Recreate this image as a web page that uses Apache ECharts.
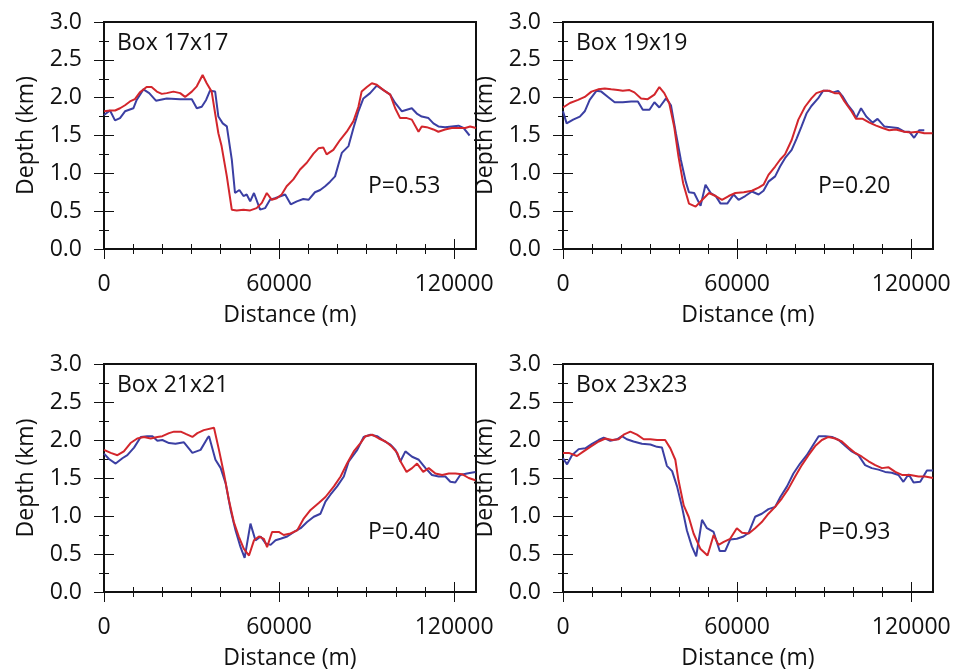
<!DOCTYPE html>
<html>
<head>
<meta charset="utf-8">
<script src="https://cdn.jsdelivr.net/npm/echarts@6/dist/echarts.min.js"></script>
<style>
  html, body { margin: 0; padding: 0; background: #fff; }
  #chart { width: 959px; height: 672px; }
</style>
</head>
<body>
<div id="chart"></div>
<script>
// tick positions and labels
const xMinorTicks = [0, 10000, 20000, 30000, 40000, 50000, 60000, 70000, 80000, 90000, 100000, 110000, 120000];
const xMajorTicks = [0, 60000, 120000];
const yMinorTicks = [0, 0.25, 0.5, 0.75, 1, 1.25, 1.5, 1.75, 2, 2.25, 2.5, 2.75, 3];
const yMajorTicks = [0, 0.5, 1, 1.5, 2, 2.5, 3];

const boxTitles = ['Box 17x17', 'Box 19x19', 'Box 21x21', 'Box 23x23'];
const pLabels = ['P=0.53', 'P=0.20', 'P=0.40', 'P=0.93'];

// [distance m, depth km]
const box17Blue = [[0,1.77],[2060,1.83],[3770,1.70],[5490,1.73],[7200,1.82],[10060,1.86],[11200,1.97],[13500,2.11],[15500,2.06],[17800,1.96],[21500,1.99],[26100,1.98],[30100,1.98],[31800,1.86],[33500,1.88],[35000,1.97],[36300,2.09],[38100,2.08],[39200,1.75],[40700,1.66],[42100,1.62],[43800,1.18],[44900,0.74],[46400,0.78],[47800,0.70],[48900,0.72],[50100,0.63],[51400,0.74],[53500,0.52],[55200,0.54],[56900,0.65],[58600,0.67],[62100,0.72],[64000,0.59],[66100,0.63],[68300,0.66],[70100,0.65],[72300,0.75],[74100,0.78],[75800,0.83],[77500,0.89],[79200,0.96],[80300,1.11],[81500,1.27],[83800,1.36],[85500,1.60],[87200,1.82],[88900,1.99],[91200,2.06],[93500,2.16],[95800,2.10],[98100,2.04],[99800,1.93],[102100,1.82],[103800,1.84],[105500,1.86],[107200,1.79],[108900,1.75],[111200,1.73],[112900,1.66],[114600,1.62],[116900,1.61],[119200,1.62],[121500,1.63],[123200,1.60],[125300,1.50]];
const box17Red = [[0,1.82],[2100,1.83],[3800,1.83],[5500,1.86],[7200,1.90],[8900,1.95],[10600,1.98],[12300,2.07],[14600,2.14],[16300,2.14],[18100,2.08],[19800,2.05],[21500,2.06],[23800,2.08],[26100,2.06],[27800,2.01],[30100,2.08],[31800,2.15],[33800,2.30],[35200,2.19],[36900,2.08],[38100,1.79],[39200,1.53],[40300,1.36],[42100,0.96],[43800,0.52],[45500,0.51],[47800,0.52],[50100,0.51],[52300,0.54],[54100,0.61],[55800,0.74],[57500,0.65],[59200,0.67],[60900,0.72],[62600,0.83],[64900,0.92],[67200,1.05],[69500,1.14],[71800,1.26],[73500,1.33],[75200,1.34],[76300,1.25],[78600,1.31],[80900,1.44],[83200,1.55],[85500,1.69],[87200,1.88],[88300,2.08],[90100,2.14],[91800,2.19],[93500,2.17],[95800,2.10],[98100,2.04],[99800,1.86],[101500,1.73],[103800,1.73],[105500,1.71],[107800,1.55],[108900,1.62],[110600,1.61],[112900,1.58],[114600,1.55],[116900,1.58],[119200,1.60],[121500,1.60],[123800,1.60],[125500,1.62],[127500,1.60]];

const box19Blue = [[0,1.82],[1250,1.66],[3500,1.71],[5800,1.75],[7500,1.82],[9200,1.97],[11500,2.09],[13200,2.08],[15500,2.01],[17800,1.94],[20600,1.94],[23500,1.95],[25800,1.95],[27500,1.84],[29800,1.84],[31500,1.94],[33200,1.87],[35500,1.99],[37200,1.90],[38900,1.53],[40600,1.18],[42300,0.89],[43400,0.75],[45200,0.74],[47400,0.57],[49100,0.85],[50900,0.74],[52600,0.70],[54300,0.60],[56600,0.60],[58800,0.72],[60500,0.65],[62800,0.70],[65100,0.76],[67400,0.72],[69100,0.77],[70800,0.89],[73100,0.96],[74800,1.09],[76500,1.20],[78800,1.31],[80500,1.46],[82200,1.62],[83900,1.79],[85600,1.89],[87900,1.99],[89600,2.09],[91300,2.09],[93100,2.07],[94800,2.09],[96500,2.01],[98200,1.90],[99900,1.82],[101000,1.73],[102700,1.86],[104500,1.75],[106700,1.67],[108400,1.72],[110700,1.62],[113000,1.61],[115300,1.60],[117600,1.55],[119300,1.55],[121000,1.47],[122700,1.57],[124500,1.57]];
const box19Red = [[0,1.87],[2400,1.93],[5200,1.97],[7500,2.01],[9800,2.08],[12100,2.11],[14400,2.12],[16600,2.11],[18900,2.10],[20600,2.09],[22900,2.10],[24600,2.07],[26900,1.99],[29200,1.98],[31500,2.04],[33200,2.14],[34900,2.06],[36600,1.93],[38300,1.62],[39800,1.22],[41400,0.87],[43400,0.60],[45700,0.56],[48000,0.65],[50300,0.74],[52600,0.70],[54800,0.65],[57100,0.70],[59400,0.74],[62300,0.75],[65100,0.77],[67400,0.81],[69100,0.85],[70800,0.98],[73100,1.09],[74800,1.18],[76500,1.25],[78800,1.44],[81100,1.71],[83400,1.88],[85600,1.99],[87300,2.06],[89600,2.09],[91900,2.09],[93600,2.06],[95300,2.06],[97000,1.95],[99400,1.82],[101000,1.72],[103300,1.72],[105600,1.67],[107900,1.63],[110100,1.60],[112400,1.57],[114700,1.58],[117600,1.55],[119900,1.54],[122200,1.55],[124500,1.53],[127300,1.53]];

const box21Blue = [[0,1.82],[1700,1.75],[4000,1.69],[6300,1.76],[8000,1.80],[10300,1.90],[12600,2.04],[14800,2.05],[16600,2.05],[18300,1.99],[20000,2.00],[22300,1.96],[24500,1.95],[27400,1.97],[30300,1.83],[33100,1.87],[35400,2.02],[36000,2.05],[38200,1.74],[40000,1.63],[41700,1.43],[43400,1.08],[45100,0.81],[46800,0.59],[48200,0.45],[50200,0.90],[51900,0.68],[53700,0.73],[55400,0.64],[57100,0.62],[58800,0.68],[60500,0.70],[62800,0.73],[65100,0.79],[67400,0.84],[69600,0.92],[71900,0.99],[74200,1.03],[75900,1.19],[77600,1.28],[79900,1.39],[82200,1.52],[83900,1.72],[86800,1.87],[89000,2.04],[91300,2.07],[93600,2.05],[95900,1.99],[98200,1.94],[99900,1.87],[101600,1.72],[103300,1.85],[105600,1.78],[107900,1.74],[110200,1.63],[112400,1.54],[114700,1.52],[117000,1.52],[118700,1.45],[120400,1.44],[122100,1.54],[124400,1.56],[127300,1.58]];
const box21Red = [[0,1.87],[2300,1.83],[4600,1.80],[6800,1.85],[9100,1.96],[11400,2.02],[13700,2.04],[16000,2.02],[18300,2.04],[20000,2.05],[22300,2.09],[24000,2.11],[26300,2.11],[28000,2.08],[30300,2.04],[32000,2.09],[34200,2.13],[37700,2.16],[39400,1.87],[41100,1.56],[42800,1.21],[44500,0.92],[46200,0.73],[47900,0.57],[49700,0.48],[51400,0.68],[53100,0.73],[54800,0.70],[55900,0.59],[57600,0.79],[59900,0.79],[61600,0.75],[63900,0.77],[66200,0.81],[68500,0.97],[70800,1.08],[73600,1.17],[75900,1.25],[78800,1.39],[81100,1.52],[83300,1.69],[85600,1.85],[87900,1.96],[89600,2.05],[91900,2.07],[94200,2.02],[96500,1.98],[98700,1.91],[100500,1.83],[101600,1.72],[103700,1.58],[105600,1.63],[107300,1.69],[109400,1.58],[111300,1.63],[113600,1.56],[115900,1.54],[118200,1.56],[120400,1.56],[122700,1.55],[125000,1.50],[127300,1.47]];

const box23Blue = [[0,1.76],[1400,1.68],[3100,1.80],[5400,1.88],[7700,1.89],[10000,1.95],[12300,2.00],[14000,2.03],[16300,1.99],[18600,2.01],[20300,2.05],[22000,2.01],[24300,1.98],[27200,1.95],[30100,1.94],[32400,1.91],[34100,1.90],[35800,1.66],[37600,1.59],[39300,1.39],[41000,1.12],[42700,0.81],[44400,0.60],[45900,0.47],[47900,0.95],[49600,0.84],[51900,0.79],[54000,0.54],[55900,0.54],[57600,0.69],[59900,0.70],[62200,0.73],[64000,0.78],[66200,0.99],[68500,1.03],[70800,1.09],[73100,1.12],[74900,1.25],[77200,1.39],[79400,1.56],[81700,1.69],[84000,1.80],[86300,1.94],[88100,2.05],[90400,2.05],[92700,2.04],[95000,2.00],[97300,1.92],[99500,1.85],[101800,1.80],[104100,1.67],[106400,1.63],[108700,1.61],[111000,1.58],[113300,1.57],[115600,1.54],[117300,1.45],[119100,1.55],[120800,1.44],[123100,1.45],[125400,1.60],[127500,1.60]];
const box23Red = [[0,1.83],[2000,1.83],[4800,1.79],[7100,1.85],[9400,1.91],[12300,1.98],[14600,2.02],[16900,2.00],[19200,2.01],[20900,2.07],[23200,2.11],[25500,2.07],[27800,2.01],[30100,2.01],[32400,2.00],[35200,2.00],[37000,1.89],[38700,1.74],[39800,1.47],[41600,1.14],[43300,0.99],[45000,0.77],[47300,0.57],[49800,0.48],[51900,0.75],[53600,0.62],[55400,0.66],[57600,0.70],[59900,0.84],[61700,0.78],[64000,0.77],[66200,0.84],[68500,0.92],[70800,1.03],[73100,1.12],[75400,1.23],[77700,1.36],[80000,1.52],[82300,1.67],[84600,1.80],[86900,1.92],[89200,2.00],[91500,2.04],[93800,2.02],[96100,1.98],[98400,1.90],[100700,1.83],[103000,1.78],[105300,1.72],[107600,1.67],[109900,1.63],[112200,1.64],[114500,1.58],[116800,1.54],[119700,1.54],[122500,1.52],[124800,1.52],[127500,1.50]];

const blueSeries = [box17Blue, box19Blue, box21Blue, box23Blue];
const redSeries = [box17Red, box19Red, box21Red, box23Red];

const BLUE = '#3b3fa3';
const RED = '#d3262c';
const FONT = '"Open Sans", "Noto Sans", sans-serif';

// panel boxes: left, top, width, height
const panels = [
  { left: 104, top: 22, width: 372, height: 227 },
  { left: 563, top: 22, width: 370, height: 227 },
  { left: 104, top: 364, width: 372, height: 228 },
  { left: 563, top: 364, width: 370, height: 228 }
];

const chart = echarts.init(document.getElementById('chart'));

let grids = [], xAxes = [], yAxes = [], series = [], graphics = [];

function xAx(gi, pos, ticks, len, withLabel) {
  return {
    type: 'value', gridIndex: gi, position: pos, min: 0, max: 127500,
    axisLine: { show: false },
    splitLine: { show: false },
    axisTick: { show: true, inside: false, length: len, customValues: ticks, lineStyle: { color: '#111', width: 1 } },
    axisLabel: withLabel ? { show: true, customValues: xMajorTicks, formatter: v => String(v), fontSize: 23, fontFamily: FONT, color: '#111', margin: 24 } : { show: false },
    name: withLabel ? 'Distance (m)' : '',
    nameLocation: 'middle', nameGap: 55, nameMoveOverlap: false,
    nameTextStyle: { fontSize: 23, fontFamily: FONT, color: '#111' }
  };
}

function yAx(gi, pos, ticks, len, withLabel) {
  return {
    type: 'value', gridIndex: gi, position: pos, min: 0, max: 3,
    axisLine: { show: false },
    splitLine: { show: false },
    axisTick: { show: true, inside: false, length: len, customValues: ticks, lineStyle: { color: '#111', width: 1 } },
    axisLabel: withLabel ? { show: true, customValues: yMajorTicks, formatter: v => v.toFixed(1), fontSize: 23, fontFamily: FONT, color: '#111', margin: 22 } : { show: false },
    name: withLabel ? 'Depth (km)' : '',
    nameLocation: 'middle', nameGap: 66, nameMoveOverlap: false,
    nameTextStyle: { fontSize: 23, fontFamily: FONT, color: '#111' }
  };
}

panels.forEach((p, i) => {
  grids.push({ left: p.left, top: p.top, width: p.width, height: p.height, show: true, borderColor: '#111', borderWidth: 2, backgroundColor: '#fff' });
  const xi = xAxes.length, yi = yAxes.length;
  xAxes.push(xAx(i, 'bottom', xMajorTicks, 10, true));
  xAxes.push(xAx(i, 'bottom', xMinorTicks, 5, false));
  xAxes.push(xAx(i, 'top', xMajorTicks, 10, false));
  xAxes.push(xAx(i, 'top', xMinorTicks, 5, false));
  yAxes.push(yAx(i, 'left', yMajorTicks, 10, true));
  yAxes.push(yAx(i, 'left', yMinorTicks, 5, false));
  yAxes.push(yAx(i, 'right', yMajorTicks, 10, false));
  yAxes.push(yAx(i, 'right', yMinorTicks, 5, false));

  series.push({ type: 'line', xAxisIndex: xi, yAxisIndex: yi, data: blueSeries[i], showSymbol: false, lineStyle: { color: BLUE, width: 2 }, itemStyle: { color: BLUE }, z: 3 });
  series.push({ type: 'line', xAxisIndex: xi, yAxisIndex: yi, data: redSeries[i], showSymbol: false, lineStyle: { color: RED, width: 2 }, itemStyle: { color: RED }, z: 4 });

  graphics.push({ type: 'text', left: p.left + 13, top: p.top + 10, z: 10,
    style: { text: boxTitles[i], font: '23px ' + FONT, fill: '#111' } });
  graphics.push({ type: 'text', left: p.left + (i % 2 ? 255 : 264), top: p.top + (i < 2 ? 153 : 157), z: 10,
    style: { text: pLabels[i], font: '23px ' + FONT, fill: '#111' } });
});

chart.setOption({
  animation: false,
  grid: grids,
  xAxis: xAxes,
  yAxis: yAxes,
  series: series,
  graphic: graphics
});
</script>
</body>
</html>
